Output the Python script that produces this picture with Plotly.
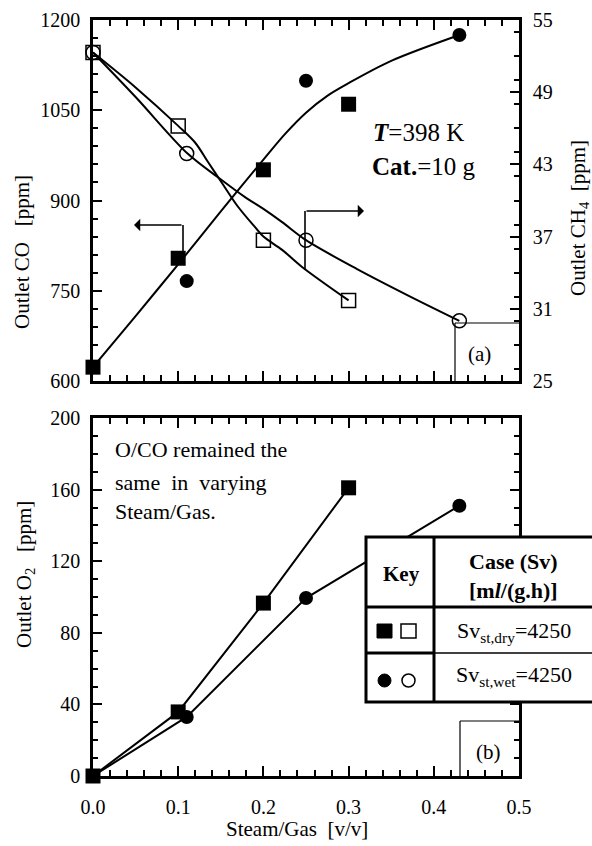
import plotly.graph_objects as go

# ---------------- data ----------------
# Panel (a): outlet CO (left axis, filled marks) and CH4 (right axis, open marks)
co_dry_x = [0.0, 0.1, 0.2, 0.3]
co_dry_y = [623, 804, 951, 1060]
co_wet_x = [0.0, 0.11, 0.25, 0.43]
co_wet_y = [623, 766, 1099, 1175]
co_fit_x = [0.0, 0.05, 0.1, 0.15, 0.2, 0.225, 0.25, 0.275, 0.3, 0.35, 0.43]
co_fit_y = [623, 708, 794, 882, 968, 1010, 1046, 1074, 1095, 1132, 1175]

ch4_dry_x = [0.0, 0.1, 0.2, 0.3]
ch4_dry_y = [52.3, 46.2, 36.7, 31.7]
ch4_wet_x = [0.0, 0.11, 0.25, 0.43]
ch4_wet_y = [52.3, 43.9, 36.7, 30.0]
ch4_dry_fit_x = [0.0, 0.05, 0.1, 0.12, 0.135, 0.151, 0.17, 0.19, 0.2, 0.222, 0.245, 0.3]
ch4_dry_fit_y = [52.3, 49.4, 46.2, 44.8, 43.2, 41.5, 39.5, 37.8, 37.0, 35.9, 34.5, 31.7]
ch4_wet_fit_x = [0.0, 0.05, 0.111, 0.151, 0.178, 0.2, 0.222, 0.25, 0.31, 0.37, 0.43]
ch4_wet_fit_y = [52.3, 48.6, 43.9, 41.7, 40.3, 39.3, 38.2, 36.7, 34.3, 32.1, 30.0]

# Panel (b): outlet O2
o2_dry_x = [0.0, 0.1, 0.2, 0.3]
o2_dry_y = [0, 35.8, 96.6, 161]
o2_wet_x = [0.0, 0.11, 0.25, 0.43]
o2_wet_y = [0, 33, 99.4, 151]

x_ticks = [0.0, 0.1, 0.2, 0.3, 0.4, 0.5]
x_labels = ["0.0", "0.1", "0.2", "0.3", "0.4", "0.5"]
co_ticks = [600, 750, 900, 1050, 1200]
ch4_ticks = [25, 31, 37, 43, 49, 55]
o2_ticks = [0, 40, 80, 120, 160, 200]

# ---------------- layout helpers ----------------
FONT = "Liberation Serif"
L, R, T, B = 93, 519, 20, 776
W, H = 592, 846


def px(x):
    return (x - L) / (R - L)


def py(y):
    return (B - y) / (B - T)


top_dom = [py(381), 1.0]
bot_dom = [0.0, py(418)]

fig = go.Figure()

BLK = "black"
line_style = dict(color=BLK, width=2)
curve = dict(color=BLK, width=2, shape="spline", smoothing=0.9)

# ---- panel (a) curves ----
fig.add_trace(go.Scatter(x=co_fit_x, y=co_fit_y, mode="lines", line=curve,
                         xaxis="x", yaxis="y", hoverinfo="skip"))
fig.add_trace(go.Scatter(x=ch4_dry_fit_x, y=ch4_dry_fit_y, mode="lines", line=curve,
                         xaxis="x", yaxis="y2", hoverinfo="skip"))
fig.add_trace(go.Scatter(x=ch4_wet_fit_x, y=ch4_wet_fit_y, mode="lines", line=curve,
                         xaxis="x", yaxis="y2", hoverinfo="skip"))

# ---- panel (a) markers ----
fig.add_trace(go.Scatter(x=co_wet_x, y=co_wet_y, mode="markers", cliponaxis=False,
                         marker=dict(symbol="circle", size=14, color=BLK), xaxis="x", yaxis="y"))
fig.add_trace(go.Scatter(x=co_dry_x, y=co_dry_y, mode="markers", cliponaxis=False,
                         marker=dict(symbol="square", size=15, color=BLK), xaxis="x", yaxis="y"))
fig.add_trace(go.Scatter(x=ch4_wet_x, y=ch4_wet_y, mode="markers", cliponaxis=False,
                         marker=dict(symbol="circle-open", size=14, color=BLK, line=dict(width=1.5)),
                         xaxis="x", yaxis="y2"))
fig.add_trace(go.Scatter(x=ch4_dry_x, y=ch4_dry_y, mode="markers", cliponaxis=False,
                         marker=dict(symbol="square-open", size=14, color=BLK, line=dict(width=1.5)),
                         xaxis="x", yaxis="y2"))

# ---- panel (b) ----
fig.add_trace(go.Scatter(x=o2_dry_x, y=o2_dry_y, mode="lines+markers", cliponaxis=False, line=line_style,
                         marker=dict(symbol="square", size=15, color=BLK), xaxis="x2", yaxis="y3"))
fig.add_trace(go.Scatter(x=o2_wet_x, y=o2_wet_y, mode="lines+markers", cliponaxis=False, line=line_style,
                         marker=dict(symbol="circle", size=14, color=BLK), xaxis="x2", yaxis="y3"))

axis_common = dict(showline=True, linecolor=BLK, linewidth=2.5, ticks="inside", tickcolor=BLK,
                   tickwidth=2, showgrid=False, zeroline=False,
                   tickfont=dict(family=FONT, size=20, color=BLK))

fig.update_layout(
    width=W, height=H,
    margin=dict(l=L, r=W - R, t=T, b=H - B, autoexpand=False),
    paper_bgcolor="white", plot_bgcolor="white",
    showlegend=False,
    font=dict(family=FONT, size=18, color=BLK),
    xaxis=dict(**axis_common, domain=[0, 1], anchor="y", range=[0, 0.5], tickvals=x_ticks,
               showticklabels=False, ticklen=10, mirror="ticks",
               minor=dict(dtick=0.02, ticks="inside", ticklen=6, tickwidth=2, tickcolor=BLK)),
    yaxis=dict(**axis_common, domain=top_dom, anchor="x", range=[600, 1200], tickvals=co_ticks,
               ticklen=9, ticklabelstandoff=6,
               minor=dict(dtick=30, ticks="inside", ticklen=5, tickwidth=2, tickcolor=BLK)),
    yaxis2=dict(**axis_common, overlaying="y", side="right", anchor="x", range=[25, 55], tickvals=ch4_ticks,
                ticklen=9, ticklabelstandoff=7,
                minor=dict(dtick=2, ticks="inside", ticklen=5, tickwidth=2, tickcolor=BLK)),
    xaxis2=dict(**axis_common, domain=[0, 1], anchor="y3", range=[0, 0.5], tickvals=x_ticks, ticktext=x_labels,
                ticklen=10, mirror="ticks", ticklabelstandoff=11,
                minor=dict(dtick=0.02, ticks="inside", ticklen=6, tickwidth=2, tickcolor=BLK)),
    yaxis3=dict(**axis_common, domain=bot_dom, anchor="x2", range=[0, 200], tickvals=o2_ticks,
                ticklen=9, mirror="ticks", ticklabelstandoff=6,
                minor=dict(dtick=10, ticks="inside", ticklen=5, tickwidth=2, tickcolor=BLK)),
)

shapes = []
anns = []


def seg(x0, y0, x1, y1, w=2):
    shapes.append(dict(type="line", xref="paper", yref="paper", x0=px(x0), y0=py(y0), x1=px(x1), y1=py(y1),
                       line=dict(color=BLK, width=w), layer="above"))


def text(x, y, s, size=18, xanchor="center", angle=0):
    anns.append(dict(xref="paper", yref="paper", x=px(x), y=py(y), text=s, showarrow=False,
                     xanchor=xanchor, yanchor="middle", textangle=angle,
                     font=dict(family=FONT, size=size, color=BLK)))


def arrow(x0, y, x1):
    anns.append(dict(xref="paper", yref="paper", axref="pixel", ayref="pixel",
                     x=px(x1), y=py(y), ax=x0 - x1, ay=0, text="", showarrow=True,
                     arrowhead=1, arrowsize=1.3, arrowwidth=1.6, arrowcolor=BLK))


# axis titles
text(22, 252, "Outlet CO   [ppm]", size=21, angle=-90)
text(579, 218, "Outlet CH<sub>4</sub>  [ppm]", size=21, angle=-90)
text(25, 575, "Outlet O<sub>2</sub>   [ppm]", size=21, angle=-90)
text(297, 829, "Steam/Gas  [v/v]", size=21)

# panel (a) callouts
seg(183, 258, 183, 225, 1.6)
arrow(183, 225, 134)
seg(305, 270, 305, 211, 1.6)
arrow(305, 211, 364)
text(371, 133, "<b><i>T</i></b>=398 K", size=25, xanchor="left")
text(370, 167, "<b>Cat.</b>=10 g", size=25, xanchor="left")
seg(455, 323, 455, 381, 1.2)
seg(455, 323, 519, 323, 1.2)
text(479, 354, "(a)", size=21)

# panel (b) note
text(113, 449, "O/CO remained the", size=22, xanchor="left")
text(113, 482, "same  in  varying", size=22, xanchor="left")
text(113, 511, "Steam/Gas.", size=22, xanchor="left")
seg(460, 721, 460, 776, 1.2)
seg(460, 721, 519, 721, 1.2)
text(488, 752, "(b)", size=21)

# key table
shapes.append(dict(type="rect", xref="paper", yref="paper", x0=px(366), y0=py(702), x1=px(640), y1=py(537),
                   line=dict(color=BLK, width=3), fillcolor="white", layer="above"))
seg(434, 537, 434, 702, 3)
seg(366, 607, 640, 607, 3)
seg(366, 653, 434, 653, 3)
seg(434, 653, 640, 653, 1.5)
text(401, 574, "<b>Key</b>", size=21)
text(513, 561, "<b>Case (Sv)</b>", size=22)
text(513, 590, "<b>[m<i>l</i>/(g.h)]</b>", size=22)
text(514, 632, "Sv<sub>st,dry</sub>=4250", size=22)
text(514, 676, "Sv<sub>st,wet</sub>=4250", size=22)
# key symbols
shapes.append(dict(type="rect", xref="paper", yref="paper", x0=px(377), x1=px(392), y0=py(638), y1=py(624),
                   line=dict(color=BLK, width=1), fillcolor=BLK, layer="above"))
shapes.append(dict(type="rect", xref="paper", yref="paper", x0=px(401), x1=px(416), y0=py(638), y1=py(624),
                   line=dict(color=BLK, width=1.5), fillcolor="white", layer="above"))
shapes.append(dict(type="circle", xref="paper", yref="paper", x0=px(378), x1=px(391), y0=py(687), y1=py(674),
                   line=dict(color=BLK, width=1), fillcolor=BLK, layer="above"))
shapes.append(dict(type="circle", xref="paper", yref="paper", x0=px(402), x1=px(415), y0=py(687), y1=py(674),
                   line=dict(color=BLK, width=1.5), fillcolor="white", layer="above"))

fig.update_layout(shapes=shapes, annotations=anns)
fig.write_html("out.html", config={"displayModeBar": False},
               post_script="document.body.style.margin='0px';")
